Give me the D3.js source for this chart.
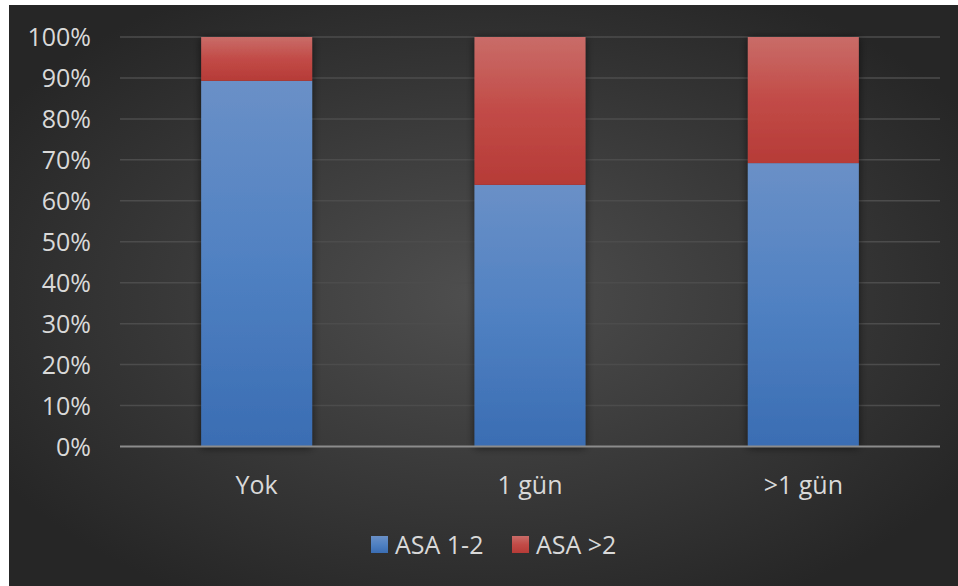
<!DOCTYPE html>
<html><head><meta charset="utf-8">
<script src="https://cdn.jsdelivr.net/npm/d3@7"></script>
<style>html,body{margin:0;padding:0;background:#fff;overflow:hidden}</style>
</head><body>
<svg id="chart" width="958" height="586"></svg>
<script>
const categories = ["Yok", "1 gün", ">1 gün"];
const seriesNames = ["ASA 1-2", "ASA >2"];
const asa12 = [0.893, 0.639, 0.692];
const asaGt2 = [0.107, 0.361, 0.308];
const yTicks = [0, 0.1, 0.2, 0.3, 0.4, 0.5, 0.6, 0.7, 0.8, 0.9, 1.0];

const svg = d3.select("#chart");
const defs = svg.append("defs");

const bg = defs.append("radialGradient").attr("id","bg").attr("cx","50%").attr("cy","50%").attr("r","60%");
bg.append("stop").attr("offset","0%").attr("stop-color","#4f4f4f");
bg.append("stop").attr("offset","100%").attr("stop-color","#262626");

const gb = defs.append("linearGradient").attr("id","gBlue").attr("x1",0).attr("y1",0).attr("x2",0).attr("y2",1);
gb.append("stop").attr("offset","0%").attr("stop-color","#6a90c7");
gb.append("stop").attr("offset","50%").attr("stop-color","#5081c2");
gb.append("stop").attr("offset","100%").attr("stop-color","#3a6db3");
const gr = defs.append("linearGradient").attr("id","gRed").attr("x1",0).attr("y1",0).attr("x2",0).attr("y2",1);
gr.append("stop").attr("offset","0%").attr("stop-color","#c96c68");
gr.append("stop").attr("offset","50%").attr("stop-color","#c24b47");
gr.append("stop").attr("offset","100%").attr("stop-color","#b63b37");

const sh = defs.append("filter").attr("id","shadow").attr("x","-20%").attr("y","-20%").attr("width","140%").attr("height","140%");
sh.append("feGaussianBlur").attr("in","SourceAlpha").attr("stdDeviation",4).attr("result","b");
sh.append("feOffset").attr("in","b").attr("dx",0).attr("dy",1).attr("result","o");
sh.append("feComponentTransfer").attr("in","o").attr("result","o2").append("feFuncA").attr("type","linear").attr("slope",0.6);
const m = sh.append("feMerge");
m.append("feMergeNode").attr("in","o2");
m.append("feMergeNode").attr("in","SourceGraphic");

svg.append("rect").attr("x",9).attr("y",5).attr("width",949).attr("height",581).attr("fill","url(#bg)");

const x = d3.scaleBand().domain(categories).range([120, 940]).paddingInner(0.594).paddingOuter(0.297);
const y = d3.scaleLinear().domain([0,1]).range([446.5, 37]);

const font = "'Open Sans', sans-serif";

// gridlines
svg.append("g").selectAll("line").data(yTicks.filter(d=>d>0)).join("line")
  .attr("x1",120).attr("x2",940).attr("y1",d=>y(d)).attr("y2",d=>y(d))
  .attr("stroke","#4c4c4c").attr("stroke-width",1.5);

// y axis labels
const yAxis = d3.axisLeft(y).tickValues(yTicks).tickFormat(d3.format(".0%")).tickSize(0).tickPadding(0);
const yg = svg.append("g").attr("transform","translate(91,0)").call(yAxis);
yg.select(".domain").remove();
yg.selectAll("text").attr("fill","#d9d9d9").attr("font-size",25).attr("font-family",font).attr("dy","0.34em");

// bars
const stackData = categories.map((c,i)=>({cat:c, "ASA 1-2":asa12[i], "ASA >2":asaGt2[i]}));
const stack = d3.stack().keys(seriesNames)(stackData);
const fills = {"ASA 1-2":"url(#gBlue)","ASA >2":"url(#gRed)"};
const barG = svg.append("g").attr("filter","url(#shadow)");
stack.forEach(layer=>{
  barG.append("g").selectAll("rect").data(layer).join("rect")
    .attr("x",d=>x(d.data.cat)).attr("width",x.bandwidth())
    .attr("y",d=>y(d[1])).attr("height",d=>y(d[0])-y(d[1]))
    .attr("fill",fills[layer.key]);
});

// x axis line
svg.append("line").attr("x1",120).attr("x2",940).attr("y1",y(0)).attr("y2",y(0))
  .attr("stroke","#8c8c8c").attr("stroke-width",2);

// x labels
const xAxis = d3.axisBottom(x).tickSize(0).tickPadding(0);
const xg = svg.append("g").attr("transform","translate(0,485)").call(xAxis);
xg.select(".domain").remove();
xg.selectAll("text").attr("fill","#d9d9d9").attr("font-size",25).attr("font-family",font).attr("dy","0.34em");

// legend
const legX = [371, 512];
const colorsLeg = ["url(#gBlue)","url(#gRed)"];
const lg = svg.append("g");
seriesNames.forEach((s,i)=>{
  lg.append("rect").attr("x",legX[i]).attr("y",536).attr("width",17).attr("height",17).attr("fill",colorsLeg[i]);
  lg.append("text").attr("x",legX[i]+24).attr("y",545).attr("dy","0.34em")
    .attr("fill","#d9d9d9").attr("font-size",25).attr("font-family",font).text(s);
});
</script>
</body></html>
